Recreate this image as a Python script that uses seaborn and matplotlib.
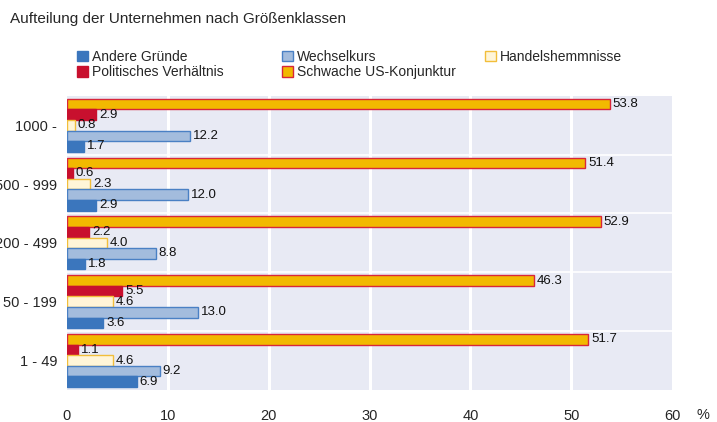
import matplotlib
import matplotlib.pyplot as plt
import pandas as pd
import seaborn as sns
from matplotlib.patches import Patch

matplotlib.use("Agg")

# --- Daten ---
klassen = ["1000 -", "500 - 999", "200 - 499", "50 - 199", "1 - 49"]
andere = [1.7, 2.9, 1.8, 3.6, 6.9]
wechselkurs = [12.2, 12.0, 8.8, 13.0, 9.2]
handel = [0.8, 2.3, 4.0, 4.6, 4.6]
politik = [2.9, 0.6, 2.2, 5.5, 1.1]
us_konjunktur = [53.8, 51.4, 52.9, 46.3, 51.7]
x_ticks = [0, 10, 20, 30, 40, 50, 60]

serien = {
    "Schwache US-Konjunktur": us_konjunktur,
    "Politisches Verhältnis": politik,
    "Handelshemmnisse": handel,
    "Wechselkurs": wechselkurs,
    "Andere Gründe": andere,
}
# Füllfarbe, Randfarbe
farben = {
    "Schwache US-Konjunktur": ("#F2B900", "#D8263A"),
    "Politisches Verhältnis": ("#C8102E", "#C8102E"),
    "Handelshemmnisse": ("#FFF5D8", "#F2BE3A"),
    "Wechselkurs": ("#A3BCDD", "#4A80C4"),
    "Andere Gründe": ("#3B76BD", "#3B76BD"),
}
# Legende: drei Spalten wie im Original
legend_spalten = [
    ["Andere Gründe", "Politisches Verhältnis"],
    ["Wechselkurs", "Schwache US-Konjunktur"],
    ["Handelshemmnisse"],
]

df = pd.DataFrame(
    [(k, s, v) for s, werte in serien.items() for k, v in zip(klassen, werte)],
    columns=["klasse", "serie", "wert"],
)

sns.set_theme(style="white")
plt.rcParams["font.family"] = ["Liberation Sans", "DejaVu Sans"]
BG = "#E8EAF4"

fig = plt.figure(figsize=(7.17, 4.22), dpi=100)
ax = fig.add_axes([0.0934, 0.076, 0.844, 0.697])
ax.set_facecolor(BG)

sns.barplot(
    data=df, x="wert", y="klasse", hue="serie", orient="h",
    order=klassen, hue_order=list(serien.keys()),
    palette={s: c[0] for s, c in farben.items()}, saturation=1,
    width=0.9, legend=False, ax=ax, zorder=3,
)

for cont, serie in zip(ax.containers, serien.keys()):
    for bar in cont:
        bar.set_edgecolor(farben[serie][1])
        bar.set_linewidth(1.0)
    ax.bar_label(cont, fmt="%.1f", padding=2, fontsize=9.5, color="#111111")

# Gitter: weiße Linien
for xv in x_ticks[1:-1]:
    ax.axvline(xv, color="white", lw=2.2, zorder=1)
for i in range(len(klassen) - 1):
    ax.axhline(i + 0.5, color="white", lw=1.2, zorder=1)

ax.set_xlim(0, 60)
ax.set_ylim(len(klassen) - 0.5, -0.5)
ax.set_xticks(x_ticks)
ax.set_xticklabels([str(t) for t in x_ticks], fontsize=10.5)
ax.tick_params(axis="x", length=0, pad=14)
ax.tick_params(axis="y", length=0, pad=7, labelsize=10.5)
ax.set_xlabel("")
ax.set_ylabel("")
for sp in ax.spines.values():
    sp.set_visible(False)

fig.text(0.981, 0.017, "%", fontsize=10.5, ha="center", va="center")
fig.text(0.014, 0.955, "Aufteilung der Unternehmen nach Größenklassen",
         fontsize=11, va="center", ha="left")

for x0, spalte in zip([0.107, 0.393, 0.676], legend_spalten):
    handles = [Patch(facecolor=farben[s][0], edgecolor=farben[s][1], label=s)
               for s in spalte]
    fig.legend(handles=handles, loc="upper left", bbox_to_anchor=(x0, 0.882),
               ncol=1, frameon=False, fontsize=10, handlelength=0.8,
               handleheight=0.8, handletextpad=0.3, labelspacing=0.1,
               borderpad=0, borderaxespad=0)

fig.savefig("out.png", dpi=100)
